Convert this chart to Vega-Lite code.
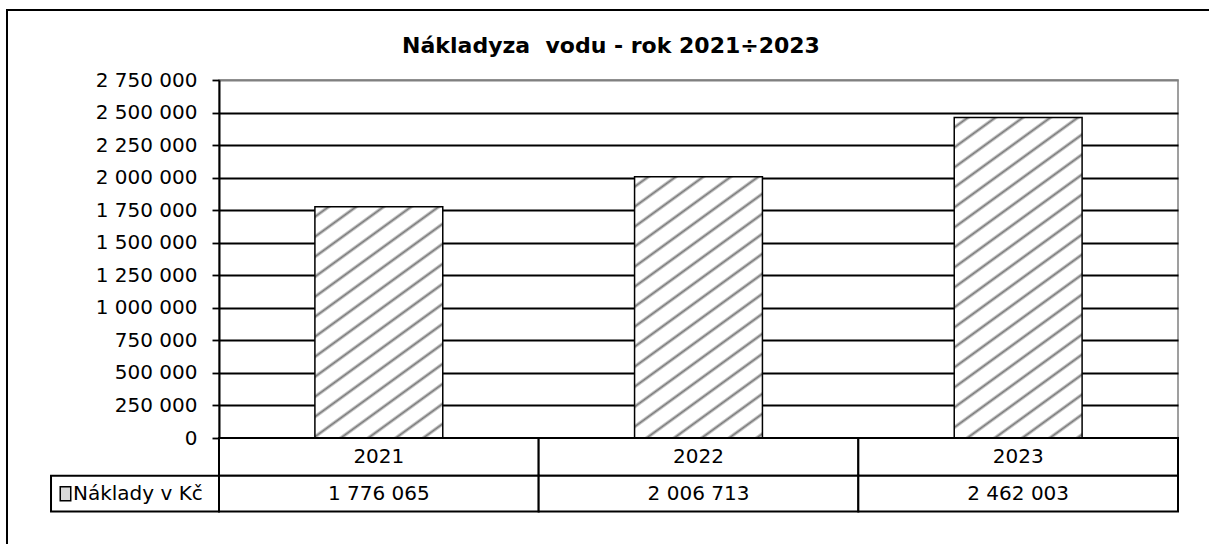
{
  "$schema": "https://vega.github.io/schema/vega-lite/v6.json",
  "width": 959,
  "height": 358,
  "autosize": {"type": "none"},
  "padding": {"left": 219, "top": 80, "right": 31, "bottom": 106},
  "background": "white",
  "title": {
    "text": "Nákladyza \u00a0vodu - rok 2021÷2023",
    "font": "DejaVu Sans",
    "fontSize": 22,
    "fontWeight": "bold",
    "color": "black",
    "anchor": "middle",
    "dx": -87.5,
    "dy": 53
  },
  "config": {
    "locale": {"number": {"decimal": ",", "thousands": " ", "grouping": [3], "currency": ["", " Kč"]}},
    "view": {"stroke": "#808080", "strokeWidth": 1.5},
    "font": "DejaVu Sans",
    "axisY": {
      "grid": true,
      "gridWidth": 1.8,
      "domainColor": "black",
      "domainWidth": 2,
      "tickColor": "black",
      "tickSize": 7,
      "tickWidth": 1.8,
      "labelFont": "DejaVu Sans",
      "labelFontSize": 20,
      "labelColor": "black",
      "labelPadding": 15,
      "labelOverlap": false
    }
  },
  "data": {
    "values": [
      {"year": "2021", "value": 1776065},
      {"year": "2022", "value": 2006713},
      {"year": "2023", "value": 2462003}
    ]
  },
  "layer": [
    {
      "data": {"values": [{"label": "Náklady v Kč"}]},
      "layer": [
        {
          "mark": {"type": "rect", "fill": null, "fillOpacity": 0, "stroke": "black", "strokeWidth": 2},
          "encoding": {
            "x": {"datum": -0.6632, "type": "quantitative", "scale": {"domain": [0, 3], "nice": false, "zero": false}, "axis": null},
            "x2": {"datum": 3.5},
            "y": {"datum": 3287700, "type": "quantitative", "scale": {"domain": [0, 2750000], "nice": false},
              "axis": {"title": null, "values": [0, 250000, 500000, 750000, 1000000, 1250000, 1500000, 1750000, 2000000, 2250000, 2500000, 2750000], "format": ",d", "labelOverlap": false, "gridColor": {"condition": {"test": "datum.value === 2750000", "value": "#808080"}, "value": "black"}}},
            "y2": {"datum": -1000000}
          }
        },
        {
          "mark": {"type": "rect", "fill": "white", "stroke": "black", "strokeWidth": 2},
          "encoding": {
            "x": {"datum": -0.5255, "type": "quantitative", "scale": {"domain": [0, 3], "nice": false, "zero": false}, "axis": null},
            "x2": {"datum": 0},
            "y": {"datum": -290000, "type": "quantitative", "scale": {"domain": [0, 2750000], "nice": false},
              "axis": {"title": null, "values": [0, 250000, 500000, 750000, 1000000, 1250000, 1500000, 1750000, 2000000, 2250000, 2500000, 2750000], "format": ",d", "labelOverlap": false, "gridColor": {"condition": {"test": "datum.value === 2750000", "value": "#808080"}, "value": "black"}}},
            "y2": {"datum": -565000}
          }
        },
        {
          "mark": {"type": "point", "shape": "M -0.75 -1 H 0.75 V 1 H -0.75 Z", "size": 196, "filled": true, "fill": "#d9d9d9", "stroke": "black", "strokeWidth": 1.5, "opacity": 1},
          "encoding": {
            "x": {"datum": -0.4802, "type": "quantitative", "scale": {"domain": [0, 3], "nice": false, "zero": false}, "axis": null},
            "y": {"datum": -427500, "type": "quantitative", "scale": {"domain": [0, 2750000], "nice": false},
              "axis": {"title": null, "values": [0, 250000, 500000, 750000, 1000000, 1250000, 1500000, 1750000, 2000000, 2250000, 2500000, 2750000], "format": ",d", "labelOverlap": false, "gridColor": {"condition": {"test": "datum.value === 2750000", "value": "#808080"}, "value": "black"}}}
          }
        },
        {
          "mark": {"type": "text", "align": "left", "baseline": "middle", "font": "DejaVu Sans", "fontSize": 20, "color": "black"},
          "encoding": {
            "x": {"datum": -0.4567, "type": "quantitative", "scale": {"domain": [0, 3], "nice": false, "zero": false}, "axis": null},
            "y": {"datum": -427500, "type": "quantitative", "scale": {"domain": [0, 2750000], "nice": false},
              "axis": {"title": null, "values": [0, 250000, 500000, 750000, 1000000, 1250000, 1500000, 1750000, 2000000, 2250000, 2500000, 2750000], "format": ",d", "labelOverlap": false, "gridColor": {"condition": {"test": "datum.value === 2750000", "value": "#808080"}, "value": "black"}}},
            "text": {"field": "label"}
          }
        }
      ]
    },
    {
      "layer": [
        {
          "transform": [{"filter": "datum.year === '2021'"}],
          "mark": {"type": "bar", "width": {"band": 0.4}, "stroke": "black", "strokeWidth": 1.5,
            "fill": {"gradient": "linear", "x1": 0, "y1": 0, "x2": 0.6239, "y2": 1.55116, "stops": [
              {"offset": 0, "color": "#ffffff"},
              {"offset": 0.0172, "color": "#ffffff"}, {"offset": 0.024, "color": "#777777"}, {"offset": 0.0308, "color": "#ffffff"},
              {"offset": 0.0652, "color": "#ffffff"}, {"offset": 0.072, "color": "#777777"}, {"offset": 0.0788, "color": "#ffffff"},
              {"offset": 0.1132, "color": "#ffffff"}, {"offset": 0.12, "color": "#777777"}, {"offset": 0.1268, "color": "#ffffff"},
              {"offset": 0.1612, "color": "#ffffff"}, {"offset": 0.168, "color": "#777777"}, {"offset": 0.1748, "color": "#ffffff"},
              {"offset": 0.2092, "color": "#ffffff"}, {"offset": 0.216, "color": "#777777"}, {"offset": 0.2228, "color": "#ffffff"},
              {"offset": 0.2572, "color": "#ffffff"}, {"offset": 0.264, "color": "#777777"}, {"offset": 0.2708, "color": "#ffffff"},
              {"offset": 0.3052, "color": "#ffffff"}, {"offset": 0.312, "color": "#777777"}, {"offset": 0.3188, "color": "#ffffff"},
              {"offset": 0.3532, "color": "#ffffff"}, {"offset": 0.36, "color": "#777777"}, {"offset": 0.3668, "color": "#ffffff"},
              {"offset": 0.4012, "color": "#ffffff"}, {"offset": 0.408, "color": "#777777"}, {"offset": 0.4148, "color": "#ffffff"},
              {"offset": 0.4492, "color": "#ffffff"}, {"offset": 0.456, "color": "#777777"}, {"offset": 0.4628, "color": "#ffffff"},
              {"offset": 0.4972, "color": "#ffffff"}, {"offset": 0.504, "color": "#777777"}, {"offset": 0.5108, "color": "#ffffff"},
              {"offset": 0.5452, "color": "#ffffff"}, {"offset": 0.552, "color": "#777777"}, {"offset": 0.5588, "color": "#ffffff"},
              {"offset": 0.5932, "color": "#ffffff"}, {"offset": 0.6, "color": "#777777"}, {"offset": 0.6068, "color": "#ffffff"},
              {"offset": 0.6412, "color": "#ffffff"}, {"offset": 0.648, "color": "#777777"}, {"offset": 0.6548, "color": "#ffffff"},
              {"offset": 0.6892, "color": "#ffffff"}, {"offset": 0.696, "color": "#777777"}, {"offset": 0.7028, "color": "#ffffff"},
              {"offset": 0.7372, "color": "#ffffff"}, {"offset": 0.744, "color": "#777777"}, {"offset": 0.7508, "color": "#ffffff"},
              {"offset": 0.7852, "color": "#ffffff"}, {"offset": 0.792, "color": "#777777"}, {"offset": 0.7988, "color": "#ffffff"},
              {"offset": 0.8332, "color": "#ffffff"}, {"offset": 0.84, "color": "#777777"}, {"offset": 0.8468, "color": "#ffffff"},
              {"offset": 0.8812, "color": "#ffffff"}, {"offset": 0.888, "color": "#777777"}, {"offset": 0.8948, "color": "#ffffff"},
              {"offset": 0.9292, "color": "#ffffff"}, {"offset": 0.936, "color": "#777777"}, {"offset": 0.9428, "color": "#ffffff"},
              {"offset": 0.9772, "color": "#ffffff"}, {"offset": 0.984, "color": "#777777"}, {"offset": 0.9908, "color": "#ffffff"},
              {"offset": 1, "color": "#ffffff"}
            ]}
          },
          "encoding": {
            "x": {"field": "year", "type": "nominal", "axis": null, "scale": {"paddingInner": 0, "paddingOuter": 0}},
            "y": {"field": "value", "type": "quantitative", "scale": {"domain": [0, 2750000], "nice": false},
              "axis": {"title": null, "values": [0, 250000, 500000, 750000, 1000000, 1250000, 1500000, 1750000, 2000000, 2250000, 2500000, 2750000], "format": ",d", "labelOverlap": false, "gridColor": {"condition": {"test": "datum.value === 2750000", "value": "#808080"}, "value": "black"}}}
          }
        },
        {
          "transform": [{"filter": "datum.year === '2022'"}],
          "mark": {"type": "bar", "width": {"band": 0.4}, "stroke": "black", "strokeWidth": 1.5,
            "fill": {"gradient": "linear", "x1": 0, "y1": 0, "x2": 0.50392, "y2": 1.41557, "stops": [
              {"offset": 0, "color": "#ffffff"},
              {"offset": 0.0172, "color": "#ffffff"}, {"offset": 0.024, "color": "#777777"}, {"offset": 0.0308, "color": "#ffffff"},
              {"offset": 0.0652, "color": "#ffffff"}, {"offset": 0.072, "color": "#777777"}, {"offset": 0.0788, "color": "#ffffff"},
              {"offset": 0.1132, "color": "#ffffff"}, {"offset": 0.12, "color": "#777777"}, {"offset": 0.1268, "color": "#ffffff"},
              {"offset": 0.1612, "color": "#ffffff"}, {"offset": 0.168, "color": "#777777"}, {"offset": 0.1748, "color": "#ffffff"},
              {"offset": 0.2092, "color": "#ffffff"}, {"offset": 0.216, "color": "#777777"}, {"offset": 0.2228, "color": "#ffffff"},
              {"offset": 0.2572, "color": "#ffffff"}, {"offset": 0.264, "color": "#777777"}, {"offset": 0.2708, "color": "#ffffff"},
              {"offset": 0.3052, "color": "#ffffff"}, {"offset": 0.312, "color": "#777777"}, {"offset": 0.3188, "color": "#ffffff"},
              {"offset": 0.3532, "color": "#ffffff"}, {"offset": 0.36, "color": "#777777"}, {"offset": 0.3668, "color": "#ffffff"},
              {"offset": 0.4012, "color": "#ffffff"}, {"offset": 0.408, "color": "#777777"}, {"offset": 0.4148, "color": "#ffffff"},
              {"offset": 0.4492, "color": "#ffffff"}, {"offset": 0.456, "color": "#777777"}, {"offset": 0.4628, "color": "#ffffff"},
              {"offset": 0.4972, "color": "#ffffff"}, {"offset": 0.504, "color": "#777777"}, {"offset": 0.5108, "color": "#ffffff"},
              {"offset": 0.5452, "color": "#ffffff"}, {"offset": 0.552, "color": "#777777"}, {"offset": 0.5588, "color": "#ffffff"},
              {"offset": 0.5932, "color": "#ffffff"}, {"offset": 0.6, "color": "#777777"}, {"offset": 0.6068, "color": "#ffffff"},
              {"offset": 0.6412, "color": "#ffffff"}, {"offset": 0.648, "color": "#777777"}, {"offset": 0.6548, "color": "#ffffff"},
              {"offset": 0.6892, "color": "#ffffff"}, {"offset": 0.696, "color": "#777777"}, {"offset": 0.7028, "color": "#ffffff"},
              {"offset": 0.7372, "color": "#ffffff"}, {"offset": 0.744, "color": "#777777"}, {"offset": 0.7508, "color": "#ffffff"},
              {"offset": 0.7852, "color": "#ffffff"}, {"offset": 0.792, "color": "#777777"}, {"offset": 0.7988, "color": "#ffffff"},
              {"offset": 0.8332, "color": "#ffffff"}, {"offset": 0.84, "color": "#777777"}, {"offset": 0.8468, "color": "#ffffff"},
              {"offset": 0.8812, "color": "#ffffff"}, {"offset": 0.888, "color": "#777777"}, {"offset": 0.8948, "color": "#ffffff"},
              {"offset": 0.9292, "color": "#ffffff"}, {"offset": 0.936, "color": "#777777"}, {"offset": 0.9428, "color": "#ffffff"},
              {"offset": 0.9772, "color": "#ffffff"}, {"offset": 0.984, "color": "#777777"}, {"offset": 0.9908, "color": "#ffffff"},
              {"offset": 1, "color": "#ffffff"}
            ]}
          },
          "encoding": {
            "x": {"field": "year", "type": "nominal", "axis": null, "scale": {"paddingInner": 0, "paddingOuter": 0}},
            "y": {"field": "value", "type": "quantitative", "scale": {"domain": [0, 2750000], "nice": false},
              "axis": {"title": null, "values": [0, 250000, 500000, 750000, 1000000, 1250000, 1500000, 1750000, 2000000, 2250000, 2500000, 2750000], "format": ",d", "labelOverlap": false, "gridColor": {"condition": {"test": "datum.value === 2750000", "value": "#808080"}, "value": "black"}}}
          }
        },
        {
          "transform": [{"filter": "datum.year === '2023'"}],
          "mark": {"type": "bar", "width": {"band": 0.4}, "stroke": "black", "strokeWidth": 1.5,
            "fill": {"gradient": "linear", "x1": 0, "y1": 0, "x2": 0.34791, "y2": 1.19906, "stops": [
              {"offset": 0, "color": "#ffffff"},
              {"offset": 0.0172, "color": "#ffffff"}, {"offset": 0.024, "color": "#777777"}, {"offset": 0.0308, "color": "#ffffff"},
              {"offset": 0.0652, "color": "#ffffff"}, {"offset": 0.072, "color": "#777777"}, {"offset": 0.0788, "color": "#ffffff"},
              {"offset": 0.1132, "color": "#ffffff"}, {"offset": 0.12, "color": "#777777"}, {"offset": 0.1268, "color": "#ffffff"},
              {"offset": 0.1612, "color": "#ffffff"}, {"offset": 0.168, "color": "#777777"}, {"offset": 0.1748, "color": "#ffffff"},
              {"offset": 0.2092, "color": "#ffffff"}, {"offset": 0.216, "color": "#777777"}, {"offset": 0.2228, "color": "#ffffff"},
              {"offset": 0.2572, "color": "#ffffff"}, {"offset": 0.264, "color": "#777777"}, {"offset": 0.2708, "color": "#ffffff"},
              {"offset": 0.3052, "color": "#ffffff"}, {"offset": 0.312, "color": "#777777"}, {"offset": 0.3188, "color": "#ffffff"},
              {"offset": 0.3532, "color": "#ffffff"}, {"offset": 0.36, "color": "#777777"}, {"offset": 0.3668, "color": "#ffffff"},
              {"offset": 0.4012, "color": "#ffffff"}, {"offset": 0.408, "color": "#777777"}, {"offset": 0.4148, "color": "#ffffff"},
              {"offset": 0.4492, "color": "#ffffff"}, {"offset": 0.456, "color": "#777777"}, {"offset": 0.4628, "color": "#ffffff"},
              {"offset": 0.4972, "color": "#ffffff"}, {"offset": 0.504, "color": "#777777"}, {"offset": 0.5108, "color": "#ffffff"},
              {"offset": 0.5452, "color": "#ffffff"}, {"offset": 0.552, "color": "#777777"}, {"offset": 0.5588, "color": "#ffffff"},
              {"offset": 0.5932, "color": "#ffffff"}, {"offset": 0.6, "color": "#777777"}, {"offset": 0.6068, "color": "#ffffff"},
              {"offset": 0.6412, "color": "#ffffff"}, {"offset": 0.648, "color": "#777777"}, {"offset": 0.6548, "color": "#ffffff"},
              {"offset": 0.6892, "color": "#ffffff"}, {"offset": 0.696, "color": "#777777"}, {"offset": 0.7028, "color": "#ffffff"},
              {"offset": 0.7372, "color": "#ffffff"}, {"offset": 0.744, "color": "#777777"}, {"offset": 0.7508, "color": "#ffffff"},
              {"offset": 0.7852, "color": "#ffffff"}, {"offset": 0.792, "color": "#777777"}, {"offset": 0.7988, "color": "#ffffff"},
              {"offset": 0.8332, "color": "#ffffff"}, {"offset": 0.84, "color": "#777777"}, {"offset": 0.8468, "color": "#ffffff"},
              {"offset": 0.8812, "color": "#ffffff"}, {"offset": 0.888, "color": "#777777"}, {"offset": 0.8948, "color": "#ffffff"},
              {"offset": 0.9292, "color": "#ffffff"}, {"offset": 0.936, "color": "#777777"}, {"offset": 0.9428, "color": "#ffffff"},
              {"offset": 0.9772, "color": "#ffffff"}, {"offset": 0.984, "color": "#777777"}, {"offset": 0.9908, "color": "#ffffff"},
              {"offset": 1, "color": "#ffffff"}
            ]}
          },
          "encoding": {
            "x": {"field": "year", "type": "nominal", "axis": null, "scale": {"paddingInner": 0, "paddingOuter": 0}},
            "y": {"field": "value", "type": "quantitative", "scale": {"domain": [0, 2750000], "nice": false},
              "axis": {"title": null, "values": [0, 250000, 500000, 750000, 1000000, 1250000, 1500000, 1750000, 2000000, 2250000, 2500000, 2750000], "format": ",d", "labelOverlap": false, "gridColor": {"condition": {"test": "datum.value === 2750000", "value": "#808080"}, "value": "black"}}}
          }
        },
        {
          "mark": {"type": "rect", "fill": "white", "stroke": "black", "strokeWidth": 2},
          "encoding": {
            "x": {"field": "year", "type": "nominal", "axis": null, "scale": {"paddingInner": 0, "paddingOuter": 0}},
            "y": {"datum": 0, "type": "quantitative", "scale": {"domain": [0, 2750000], "nice": false},
              "axis": {"title": null, "values": [0, 250000, 500000, 750000, 1000000, 1250000, 1500000, 1750000, 2000000, 2250000, 2500000, 2750000], "format": ",d", "labelOverlap": false, "gridColor": {"condition": {"test": "datum.value === 2750000", "value": "#808080"}, "value": "black"}}},
            "y2": {"datum": -290000}
          }
        },
        {
          "mark": {"type": "rect", "fill": "white", "stroke": "black", "strokeWidth": 2},
          "encoding": {
            "x": {"field": "year", "type": "nominal", "axis": null, "scale": {"paddingInner": 0, "paddingOuter": 0}},
            "y": {"datum": -290000, "type": "quantitative", "scale": {"domain": [0, 2750000], "nice": false},
              "axis": {"title": null, "values": [0, 250000, 500000, 750000, 1000000, 1250000, 1500000, 1750000, 2000000, 2250000, 2500000, 2750000], "format": ",d", "labelOverlap": false, "gridColor": {"condition": {"test": "datum.value === 2750000", "value": "#808080"}, "value": "black"}}},
            "y2": {"datum": -565000}
          }
        },
        {
          "mark": {"type": "text", "align": "center", "baseline": "middle", "font": "DejaVu Sans", "fontSize": 20, "color": "black"},
          "encoding": {
            "x": {"field": "year", "type": "nominal", "axis": null, "scale": {"paddingInner": 0, "paddingOuter": 0}},
            "y": {"datum": -145000, "type": "quantitative", "scale": {"domain": [0, 2750000], "nice": false},
              "axis": {"title": null, "values": [0, 250000, 500000, 750000, 1000000, 1250000, 1500000, 1750000, 2000000, 2250000, 2500000, 2750000], "format": ",d", "labelOverlap": false, "gridColor": {"condition": {"test": "datum.value === 2750000", "value": "#808080"}, "value": "black"}}},
            "text": {"field": "year", "type": "nominal"}
          }
        },
        {
          "mark": {"type": "text", "align": "center", "baseline": "middle", "font": "DejaVu Sans", "fontSize": 20, "color": "black"},
          "encoding": {
            "x": {"field": "year", "type": "nominal", "axis": null, "scale": {"paddingInner": 0, "paddingOuter": 0}},
            "y": {"datum": -427500, "type": "quantitative", "scale": {"domain": [0, 2750000], "nice": false},
              "axis": {"title": null, "values": [0, 250000, 500000, 750000, 1000000, 1250000, 1500000, 1750000, 2000000, 2250000, 2500000, 2750000], "format": ",d", "labelOverlap": false, "gridColor": {"condition": {"test": "datum.value === 2750000", "value": "#808080"}, "value": "black"}}},
            "text": {"field": "value", "type": "quantitative", "format": ",d"}
          }
        }
      ]
    }
  ],
  "resolve": {"scale": {"x": "independent"}}
}
